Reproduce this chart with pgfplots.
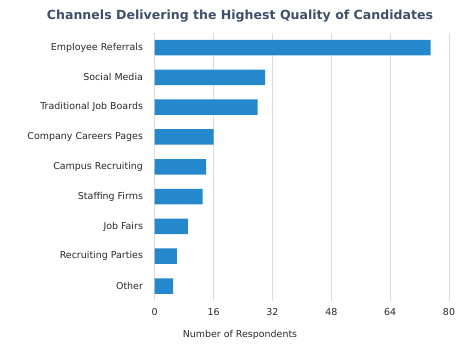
\documentclass[border=0pt]{standalone}
\usepackage{fontspec}
\setmainfont{DejaVu Sans}
\usepackage{pgfplots}
\pgfplotsset{compat=1.18}
\definecolor{barblue}{RGB}{37,135,204}
\definecolor{titlecol}{RGB}{62,80,104}
\definecolor{txt}{RGB}{40,40,40}
\definecolor{gridc}{RGB}{220,220,220}
\begin{document}
\begin{tikzpicture}[x=1bp,y=1bp]
\path[use as bounding box] (0,0) rectangle (470,353);
\begin{axis}[at={(154.7bp,52.1bp)}, anchor=south west, scale only axis,
  width=294.3bp, height=268.3bp,
  xbar, xmin=0, xmax=80, ymin=-0.5, ymax=8.5, y dir=reverse,
  bar width=15.5bp,
  xtick={0,16,32,48,64,80}, ytick={0,1,2,3,4,5,6,7,8},
  yticklabels={Employee Referrals,Social Media,Traditional Job Boards,Company Careers Pages,Campus Recruiting,Staffing Firms,Job Fairs,Recruiting Parties,Other},
  axis line style={draw=none}, tick style={draw=none},
  xmajorgrids, grid style={gridc, line width=0.9bp},
  tick label style={font=\fontsize{9.5}{11}\selectfont, text=txt},
  /pgf/number format/assume math mode=true,
  xticklabel style={yshift=-4bp},
  yticklabel style={xshift=-4bp},
]
\addplot[fill=barblue, draw=none] coordinates {(75,0) (30,1) (28,2) (16,3) (14,4) (13,5) (9,6) (6,7) (5,8)};
\end{axis}
\node[font=\bfseries\fontsize{12.6}{15}\selectfont, text=titlecol] at (240,336.5) {Channels Delivering the Highest Quality of Candidates};
\node[font=\fontsize{9.5}{11}\selectfont, text=txt] at (240,18) {Number of Respondents};
\end{tikzpicture}
\end{document}
